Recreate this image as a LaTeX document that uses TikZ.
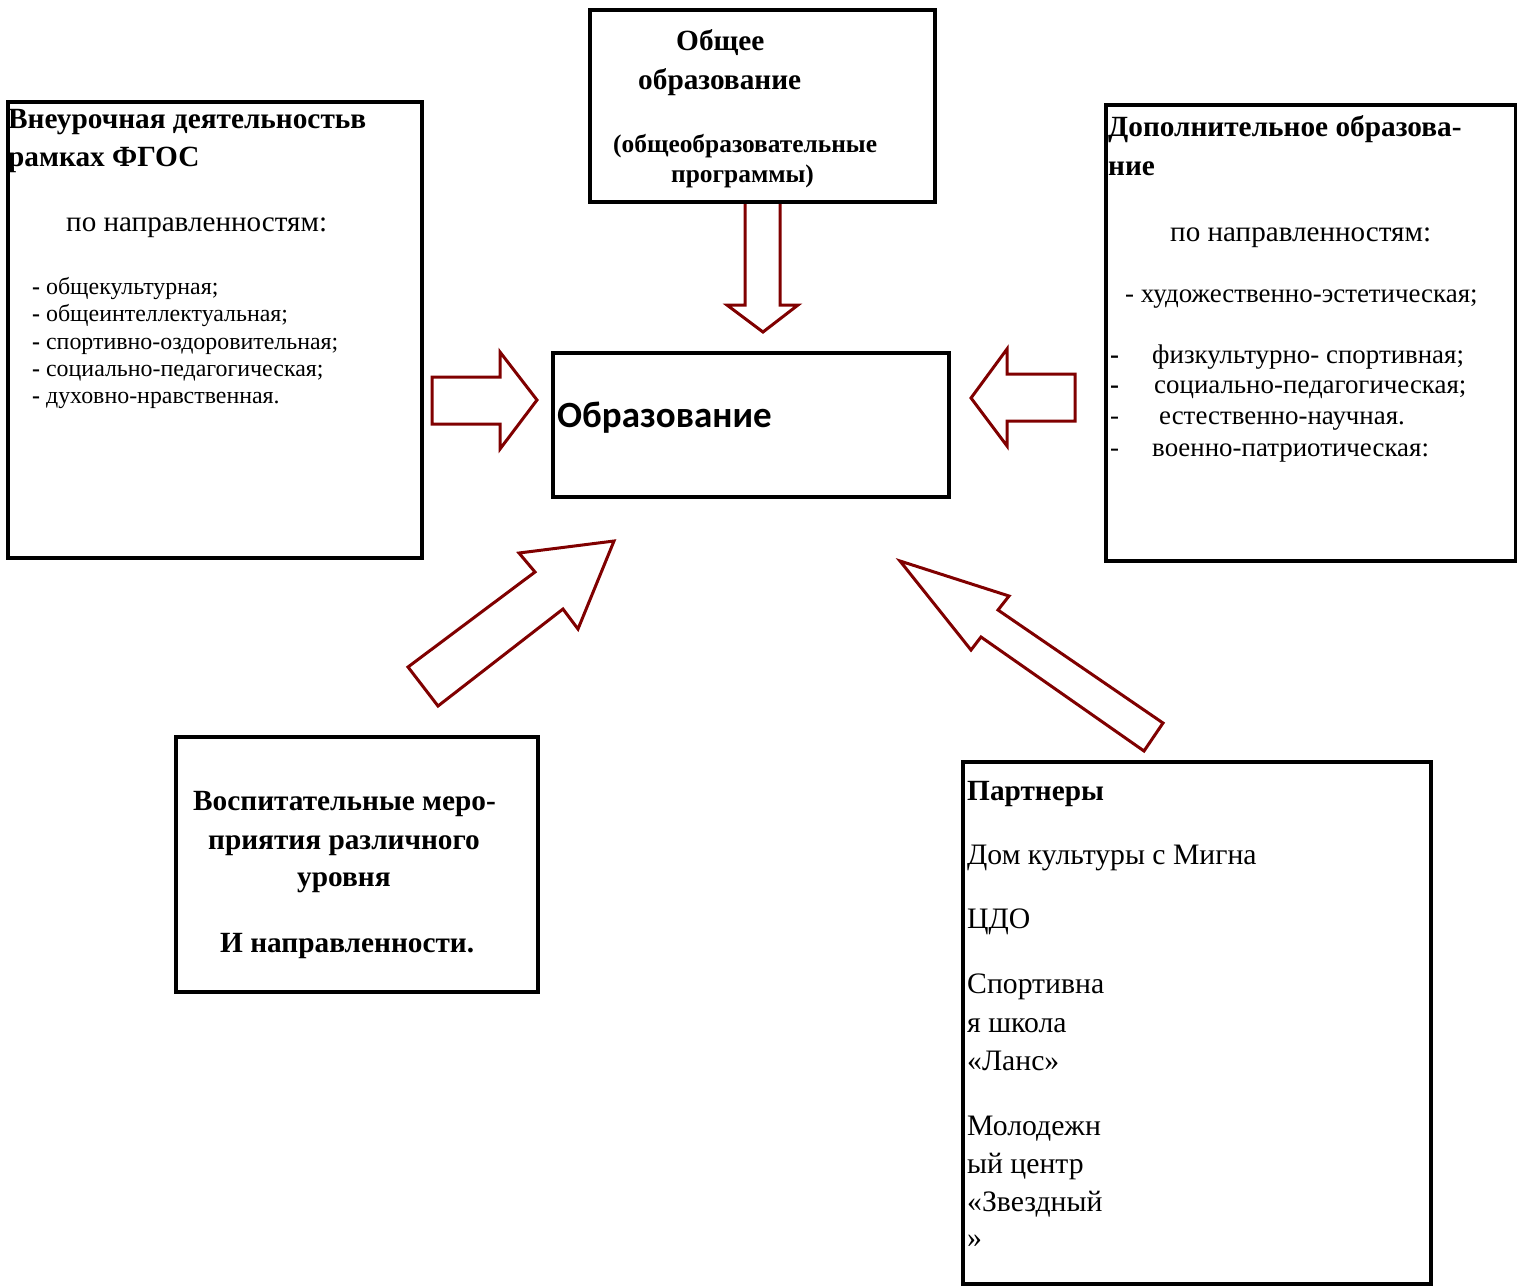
\documentclass[tikz,border=0pt]{standalone}
\usepackage{fontspec}
\setmainfont{Liberation Serif}
\newfontfamily\calfont{Carlito}
\definecolor{arrowred}{RGB}{128,0,0}
\begin{document}
\begin{tikzpicture}[x=1pt,y=-1pt,
    box/.style={draw, line width=4pt, fill=white, inner sep=0pt},
    blockarrow/.style={draw=arrowred, line width=3pt, fill=white, line join=miter},
    hd/.style={font=\fontsize{29.3}{34}\selectfont\bfseries},
    hdsmall/.style={font=\fontsize{25.4}{30}\selectfont\bfseries},
    big/.style={font=\fontsize{29.1}{34}\selectfont},
    listl/.style={font=\fontsize{23.9}{28}\selectfont},
    listr/.style={font=\fontsize{26.9}{31}\selectfont},
    partner/.style={font=\fontsize{29.7}{35}\selectfont}]

  \useasboundingbox (0,0) rectangle (1517,1286);

  % block arrows
  \draw[blockarrow] (432,377) -- (500,377) -- (500,352) -- (537,400) -- (500,449) -- (500,424) -- (432,424) -- cycle;
  \draw[blockarrow] (1075,374) -- (1007,374) -- (1007,349) -- (971,398) -- (1007,446) -- (1007,421) -- (1075,421) -- cycle;
  \draw[blockarrow] (745,202) -- (745,305) -- (727,305) -- (763,332) -- (798,305) -- (780,305) -- (780,202) -- cycle;
  \draw[blockarrow] (408,667) -- (438,706) -- (563,609) -- (578,629) -- (614,541) -- (519,553) -- (535,572) -- cycle;
  \draw[blockarrow] (900,561) -- (1009,596) -- (998,610) -- (1163,723) -- (1144,751) -- (981,637) -- (971,650) -- cycle;

  % boxes
  \node[box, minimum width=414, minimum height=456] (vneur)  at (215,330)   {};
  \node[box, minimum width=345, minimum height=192] (obshee) at (762.5,106) {};
  \node[box, minimum width=396, minimum height=144] (obraz)  at (751,425)   {};
  \node[box, minimum width=410, minimum height=456] (dop)    at (1311,333)  {};
  \node[box, minimum width=362, minimum height=255] (vosp)   at (357,864.5) {};
  \node[box, minimum width=468, minimum height=522] (partn)  at (1197,1023) {};

  \begin{scope}[every node/.style={anchor=base west, inner sep=0pt}]
    % Vneurochnaya
    \node[hd]    (v1) at (8,128)  {Внеурочная деятельностьв};
    \node[hd]    (v2) at (8,166)  {рамках ФГОС};
    \node[big]   (v3) at (66,231) {по направленностям:};
    \node[listl] (v4) at (32,294) {\textbf{-} общекультурная;};
    \node[listl] (v5) at (32,321) {\textbf{-} общеинтеллектуальная;};
    \node[listl] (v6) at (32,349) {\textbf{-} спортивно-оздоровительная;};
    \node[listl] (v7) at (32,376) {\textbf{-} социально-педагогическая;};
    \node[listl] (v8) at (32,403) {\textbf{-} духовно-нравственная.};

    % Obshchee
    \node[hd]      (o1) at (676,50)  {Общее};
    \node[hd]      (o2) at (638,89)  {образование};
    \node[hdsmall] (o3) at (613,152) {(общеобразовательные};
    \node[hdsmall] (o4) at (671,182) {программы)};

    % centre
    \node[font=\fontsize{37}{44}\selectfont\calfont\bfseries] (c1) at (557,427) {Образование};

    % Dopolnitelnoe
    \node[hd]    (d1) at (1108,136) {Дополнительное образова-};
    \node[hd]    (d2) at (1108,175) {ние};
    \node[big]   (d3) at (1170,241) {по направленностям:};
    \node[listr] (d4) at (1125,302) {- художественно-эстетическая;};
    \node[listr] (d5) at (1110,363) {\textbf{-}};
    \node[listr] (d6) at (1110,393) {\textbf{-}};
    \node[listr] (d7) at (1110,424) {-};
    \node[listr] (d8) at (1110,456) {-};
    \node[listr] (d9)  at (1152,363) {физкультурно- спортивная;};
    \node[listr] (d10) at (1154,393) {социально-педагогическая;};
    \node[listr] (d11) at (1159,424) {естественно-научная.};
    \node[listr] (d12) at (1152,456) {военно-патриотическая:};

    % Vospitatelnye
    \node[hd] (b1) at (193,810) {Воспитательные меро-};
    \node[hd] (b2) at (208,849) {приятия различного};
    \node[hd] (b3) at (297,886) {уровня};
    \node[hd] (b4) at (220,952) {И направленности.};

    % Partnery
    \node[hd]      (p1)  at (967,800)  {Партнеры};
    \node[partner] (p2)  at (967,864)  {Дом культуры с Мигна};
    \node[partner] (p3)  at (967,928)  {ЦДО};
    \node[partner] (p4)  at (967,993)  {Спортивна};
    \node[partner] (p5)  at (967,1032) {я школа};
    \node[partner] (p6)  at (967,1070) {«Ланс»};
    \node[partner] (p7)  at (967,1135) {Молодежн};
    \node[partner] (p8)  at (967,1173) {ый центр};
    \node[partner] (p9)  at (967,1211) {«Звездный};
    \node[partner] (p10) at (967,1247) {»};
  \end{scope}

\end{tikzpicture}
\end{document}
